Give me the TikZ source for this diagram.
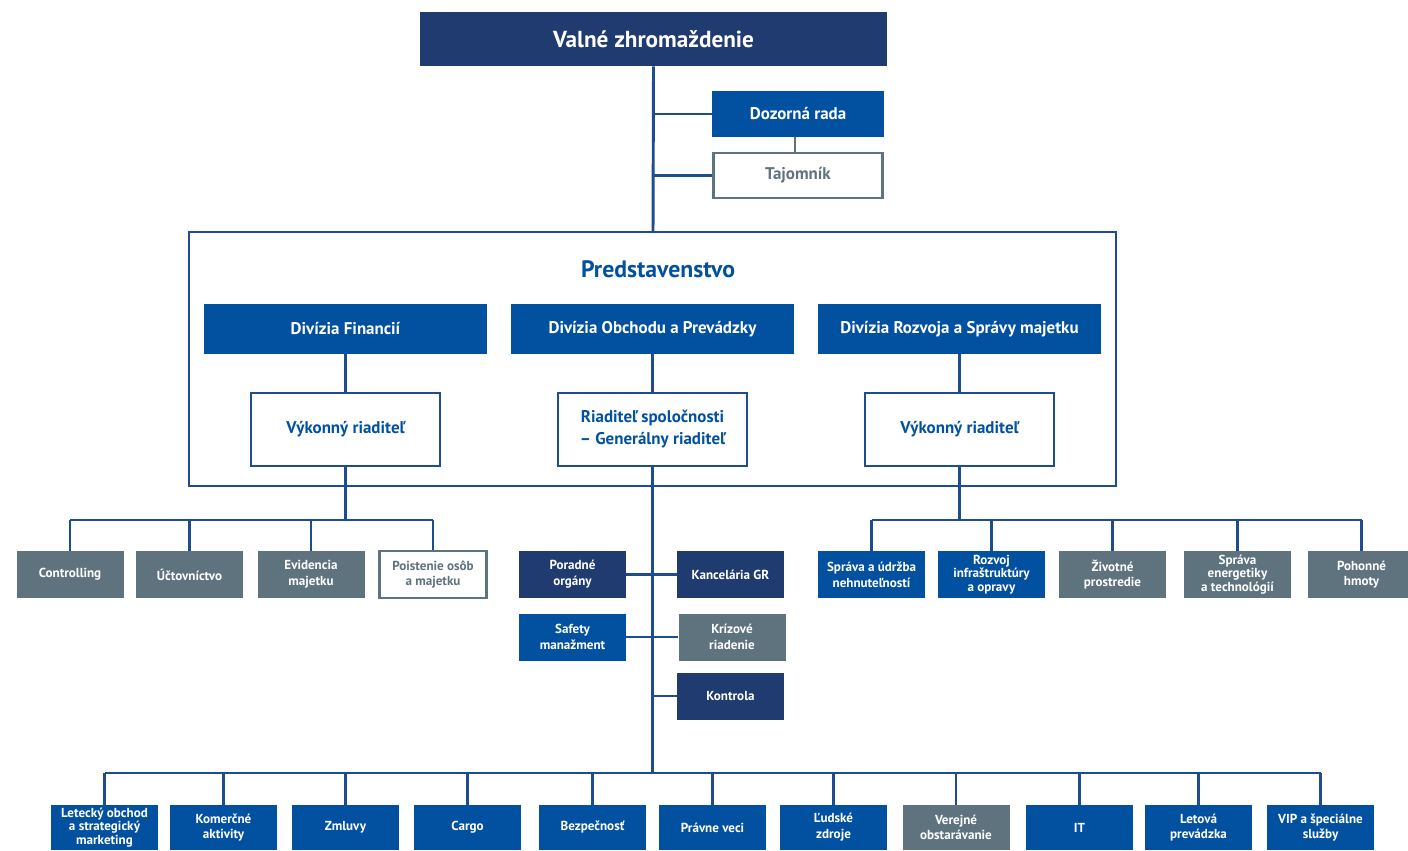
\documentclass[tikz,border=0pt]{standalone}
\usepackage{fontspec}
\setmainfont{PT Sans}
\definecolor{navy}{HTML}{203B70}
\definecolor{corpblue}{HTML}{0251A0}
\definecolor{slate}{HTML}{5F737F}
\definecolor{wire}{HTML}{1D4C8F}
\tikzset{
  box/.style={rectangle,inner sep=1pt,align=center,minimum width=80.25pt,minimum height=35.25pt,
    font=\bfseries\fontsize{9.8}{11.8}\selectfont},
  tight/.style={font=\bfseries\fontsize{9.8}{10.2}\selectfont},
  navybox/.style={box,fill=navy,text=white},
  bluebox/.style={box,fill=corpblue,text=white},
  slatebox/.style={box,fill=slate,text=white},
  bluetight/.style={bluebox,tight},
  slatetight/.style={slatebox,tight},
  openbox/.style={box,fill=white,draw=slate,line width=1.8pt,text=slate},
  divbox/.style={bluebox,minimum width=212.25pt,minimum height=37.5pt,font=\bfseries\fontsize{12.7}{14}\selectfont},
  dirbox/.style={box,fill=white,draw=wire,line width=1.8pt,text=corpblue,minimum width=141.75pt,
    minimum height=54.75pt,font=\bfseries\fontsize{12.7}{16.5}\selectfont},
  link/.style={draw=wire,line width=2.2pt}
}
\begin{document}
\begin{tikzpicture}[x=0.75pt,y=-0.75pt]
  \useasboundingbox (0,0) rectangle (1408,850);
  \node[navybox,minimum width=350.25pt,minimum height=40.5pt,font=\bfseries\fontsize{17.4}{19}\selectfont] (vz) at (653.5,39) {Valné zhromaždenie};
  \node[bluebox,minimum width=129pt,minimum height=34.5pt,font=\bfseries\fontsize{12.7}{14}\selectfont] (dr) at (798,114) {Dozorná rada};
  \node[openbox,minimum width=127pt,minimum height=33.5pt,font=\bfseries\fontsize{12.7}{14}\selectfont] (tj) at (798,175.5) {Tajomník};
  \draw[link] (189,232) rectangle (1116,486);
  \node[text=corpblue,font=\bfseries\fontsize{17.8}{19}\selectfont] (title) at (658,269) {Predstavenstvo};
  \coordinate (top) at (653,232);
  \draw[link] (vz.south) -- (top);
  \draw[link] (vz.south |- dr.west) -- (dr.west);
  \draw[link] (vz.south |- tj.west) -- (tj.west);
  \draw[slate,line width=2pt] (dr.south -| 795,0) -- (tj.north -| 795,0);

  \node[divbox] (d1) at (345.5,329) {Divízia Financií};
  \node[divbox] (d2) at (652.5,329) {Divízia Obchodu a Prevádzky};
  \node[divbox] (d3) at (959.5,329) {Divízia Rozvoja a Správy majetku};
  \node[dirbox] (r1) at (345.5,429.5) {Výkonný riaditeľ};
  \node[dirbox] (r2) at (652.5,429.5) {Riaditeľ spoločnosti\\– Generálny riaditeľ};
  \node[dirbox] (r3) at (959.5,429.5) {Výkonný riaditeľ};
  \foreach \i in {1,2,3}
    \draw[link] (d\i.south) -- (r\i.north);

  \coordinate (lbus) at (345.5,520);
  \coordinate (rbus) at (959.5,520);
  \coordinate (bbus) at (652.5,773);
  \draw[link] (r1.south) -- (lbus);
  \draw[link] (r3.south) -- (rbus);
  \draw[link] (r2.south) -- (bbus);

  \foreach \name/\x/\kind/\txt in {c1/70/slatebox/Controlling,c2/189.5/slatebox/Účtovníctvo,
      c3/311/slatebox/Evidencia\\majetku,c4/433/openbox/Poistenie osôb\\a majetku}{
    \node[\kind] (\name) at (\x,574.5) {\txt};
    \draw[link] (\name.north |- lbus) -- (\name.north);
  }
  \draw[link] (c1.north |- lbus) -- (c4.north |- lbus);

  \foreach \name/\x/\kind/\txt in {e1/871.5/bluebox/Správa a údržba\\nehnuteľností,
      e2/991.5/bluetight/Rozvoj\\infraštruktúry\\a opravy,e3/1112.5/slatebox/Životné\\prostredie,
      e4/1237.5/slatetight/Správa\\energetiky\\a technológií,e5/1361.5/slatebox/Pohonné\\hmoty}{
    \node[\kind] (\name) at (\x,574.5) {\txt};
    \draw[link] (\name.north |- rbus) -- (\name.north);
  }
  \draw[link] (e1.north |- rbus) -- (e5.north |- rbus);

  \node[navybox] (po) at (572.5,574.5) {Poradné\\orgány};
  \node[navybox] (kg) at (730.5,574.5) {Kancelária GR};
  \node[bluebox] (sm) at (572.5,637) {Safety\\manažment};
  \node[slatebox] (kr) at (732,637) {Krízové\\riadenie};
  \node[navybox] (ko) at (730.5,696) {Kontrola};
  \draw[link] (po.east) -- (kg.west);
  \draw[link] (sm.east) -- (kr.west);
  \draw[link] (ko.west -| bbus) -- (ko.west);

  \foreach \name/\x/\kind/\txt in {b1/104.5/bluetight/Letecký obchod\\a strategický\\marketing,
      b2/223.5/bluebox/Komerčné\\aktivity,b3/345.5/bluebox/Zmluvy,b4/467.5/bluebox/Cargo,
      b5/592.5/bluebox/Bezpečnosť,b6/712.5/bluebox/Právne veci,b7/833.5/bluebox/Ľudské\\zdroje,
      b8/956/slatebox/Verejné\\obstarávanie,b9/1079.5/bluebox/IT,b10/1198.5/bluebox/Letová\\prevádzka,
      b11/1320.5/bluebox/VIP a špeciálne\\služby}{
    \node[\kind,minimum height=33.75pt] (\name) at (\x,827.5) {\txt};
    \draw[link] (\name.north |- bbus) -- (\name.north);
  }
  \draw[link] (b1.north |- bbus) -- (b11.north |- bbus);
\end{tikzpicture}
\end{document}
